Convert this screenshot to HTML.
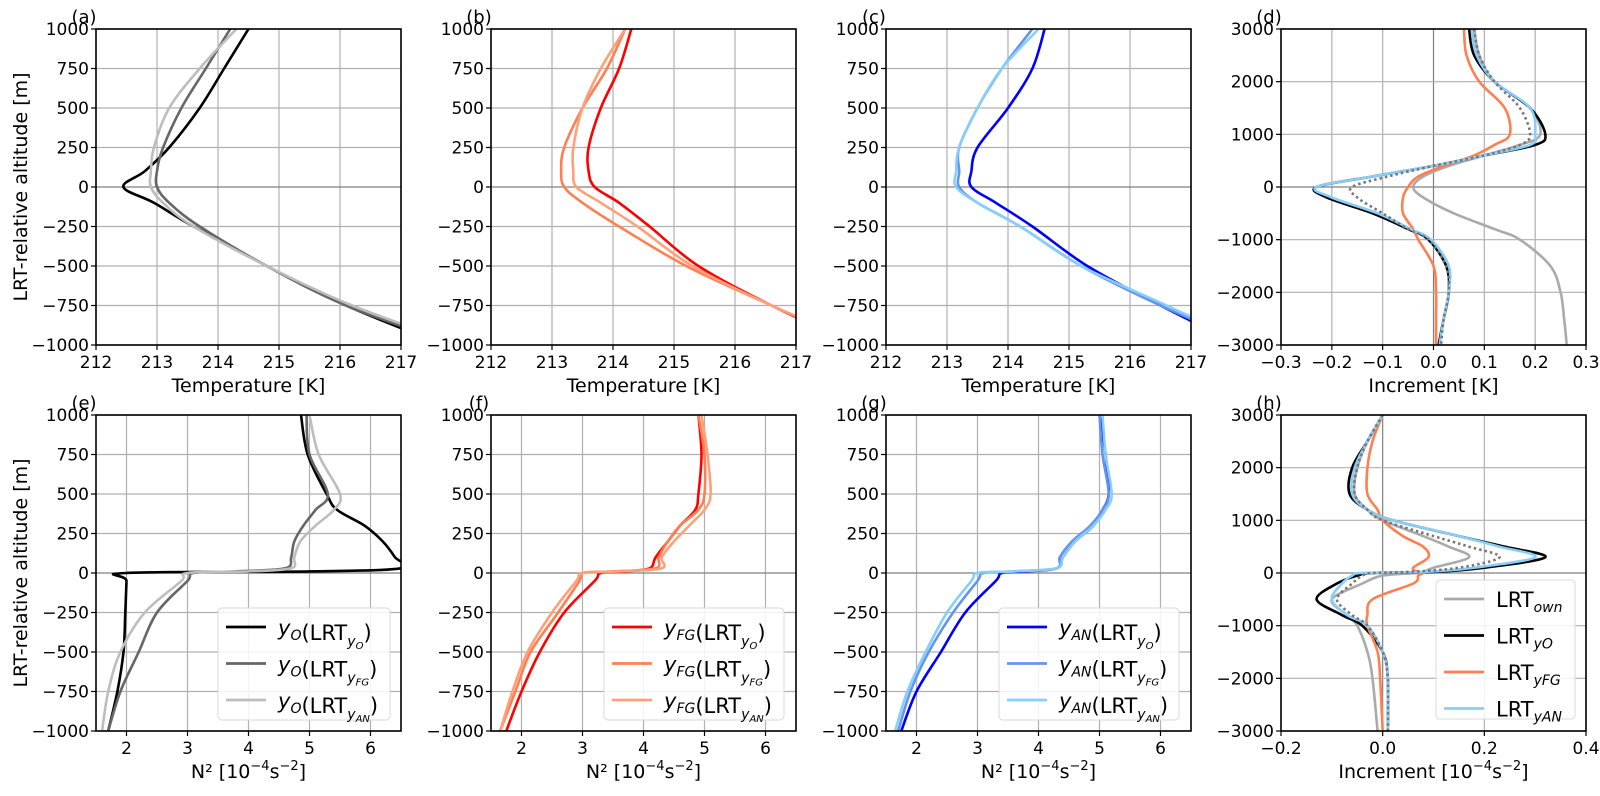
<!DOCTYPE html>
<html><head><meta charset="utf-8">
<style>
html,body{margin:0;padding:0;background:#fff;}
svg{display:block;font-family:"DejaVu Sans","Liberation Sans",sans-serif;}
</style></head>
<body>
<svg id="fig" width="1600" height="796" viewBox="0 0 1600 796" xmlns="http://www.w3.org/2000/svg"></svg>
<script>
// ---------- data ----------
const altT = [1000,750,500,250,100,0,-100,-250,-500,-750,-1000];
// panel (a)
const a_yO  = [214.5,214.1,213.7,213.2,212.8,212.45,212.95,213.6,214.8,216.1,217.7];
const a_FG  = [214.2,213.8,213.4,213.1,213.0,213.0,213.2,213.7,214.8,216.1,217.9];
const a_AN  = [214.3,213.7,213.2,212.95,212.9,212.9,213.1,213.6,214.8,216.2,218.0];
// panel (b)
const b_yO  = [214.3,214.1,213.8,213.6,213.6,213.7,214.1,214.6,215.4,216.6,218.0];
const b_FG  = [214.2,213.9,213.5,213.2,213.15,213.2,213.5,214.1,215.2,216.6,218.1];
const b_AN  = [214.2,213.8,213.5,213.35,213.35,213.4,213.8,214.4,215.3,216.6,218.1];
// panel (c)
const c_yO  = [214.6,214.4,214.0,213.5,213.4,213.4,213.8,214.4,215.3,216.5,217.8];
const c_FG  = [214.4,213.9,213.5,213.2,213.2,213.2,213.5,214.2,215.2,216.5,218.0];
const c_AN  = [214.5,213.9,213.5,213.2,213.15,213.15,213.5,214.2,215.2,216.6,218.0];
// panel (d)
const altD = [3000,2500,2000,1500,1000,800,600,400,200,0,-200,-500,-800,-1000,-1500,-2000,-2500,-3000];
const d_own = [0.08,0.09,0.12,0.19,0.21,0.17,0.10,0.03,-0.02,-0.04,-0.02,0.04,0.12,0.17,0.23,0.25,0.257,0.262];
const d_yO  = [0.07,0.08,0.12,0.19,0.22,0.20,0.10,0.0,-0.12,-0.23,-0.21,-0.12,-0.05,-0.01,0.025,0.03,0.02,0.01];
const d_FG  = [0.06,0.065,0.09,0.14,0.15,0.12,0.08,0.02,-0.03,-0.05,-0.06,-0.06,-0.04,-0.03,0.0,0.005,0.005,0.005];
const d_AN  = [0.075,0.085,0.12,0.19,0.20,0.19,0.10,0.0,-0.12,-0.23,-0.20,-0.11,-0.045,-0.005,0.03,0.03,0.02,0.012];
const d_dot = [0.08,0.09,0.12,0.17,0.19,0.17,0.10,0.0,-0.09,-0.16,-0.15,-0.10,-0.05,-0.01,0.025,0.03,0.02,0.015];
// panel (e)-(g)
const altN = [1000,750,500,400,300,200,100,30,10,0,-50,-250,-500,-750,-1000];
const e_yO = [4.86,4.97,5.28,5.45,5.9,6.2,6.4,6.5,5.0,2.0,2.0,1.98,1.95,1.85,1.7];
const e_FG = [4.95,5.0,5.3,5.1,4.9,4.75,4.7,4.6,3.8,3.1,3.0,2.5,2.2,1.9,1.7];
const e_AN = [5.0,5.15,5.5,5.4,5.1,4.85,4.75,4.7,4.0,3.0,2.9,2.3,1.9,1.7,1.6];
const f_yO = [4.9,4.95,4.9,4.85,4.6,4.4,4.2,4.1,3.7,3.3,3.2,2.7,2.3,2.0,1.75];
const f_FG = [4.9,5.0,5.0,4.9,4.6,4.4,4.25,4.2,3.5,3.0,2.95,2.6,2.15,1.9,1.65];
const f_AN = [4.95,5.05,5.1,5.0,4.75,4.5,4.3,4.3,3.6,3.0,2.9,2.5,2.1,1.85,1.65];
const g_yO = [5.0,5.1,5.15,5.05,4.9,4.6,4.4,4.3,3.8,3.4,3.3,2.8,2.4,2.0,1.75];
const g_FG = [5.0,5.05,5.15,5.05,4.85,4.55,4.35,4.3,3.6,3.1,3.0,2.6,2.2,1.9,1.7];
const g_AN = [5.05,5.1,5.2,5.1,4.9,4.6,4.4,4.3,3.6,3.0,2.9,2.5,2.15,1.85,1.65];
// panel (h)
const altH = [3000,2500,2000,1500,1200,1000,700,500,300,100,20,0,-50,-200,-500,-800,-1000,-1500,-2000,-3000];
const h_own = [0.0,-0.03,-0.05,-0.055,-0.03,0.0,0.08,0.13,0.17,0.10,0.08,0.07,0.0,-0.04,-0.10,-0.07,-0.05,-0.03,-0.02,-0.01];
const h_yO  = [0.0,-0.03,-0.06,-0.065,-0.03,0.02,0.15,0.24,0.32,0.20,0.10,-0.02,-0.05,-0.09,-0.13,-0.08,-0.04,0.0,0.01,0.01];
const h_FG  = [0.0,-0.02,-0.03,-0.03,-0.01,0.0,0.04,0.08,0.09,0.06,0.07,0.08,0.07,0.06,-0.02,-0.03,-0.03,-0.01,-0.005,0.0];
const h_AN  = [0.0,-0.03,-0.055,-0.06,-0.03,0.02,0.15,0.23,0.30,0.18,0.08,-0.04,-0.06,-0.08,-0.10,-0.07,-0.03,0.0,0.01,0.01];
const h_dot = [0.0,-0.03,-0.05,-0.055,-0.03,0.0,0.10,0.17,0.23,0.15,0.05,-0.02,-0.04,-0.06,-0.09,-0.06,-0.03,0.0,0.01,0.01];

const tempTicks = [212,213,214,215,216,217];
const altTicks1 = [-1000,-750,-500,-250,0,250,500,750,1000];
const incTicksD = [-0.3,-0.2,-0.1,0.0,0.1,0.2,0.3];
const incTicksH = [-0.2,0.0,0.2,0.4];
const altTicks3 = [-3000,-2000,-1000,0,1000,2000,3000];
const n2Ticks = [2,3,4,5,6];

// ---------- helpers ----------
const NS="http://www.w3.org/2000/svg";
const svg=document.getElementById('fig');
function el(tag,attrs,parent){const e=document.createElementNS(NS,tag);for(const k in attrs)e.setAttribute(k,attrs[k]);(parent||svg).appendChild(e);return e;}
function fmt(v,dec){let s=v.toFixed(dec);if(Math.abs(v)<1e-9)s=(0).toFixed(dec);return s.replace('-','\u2212');}
function smooth(pts){
  let d='M'+pts[0][0].toFixed(1)+','+pts[0][1].toFixed(1);
  for(let i=0;i<pts.length-1;i++){
    const p0=pts[Math.max(i-1,0)],p1=pts[i],p2=pts[i+1],p3=pts[Math.min(i+2,pts.length-1)];
    const c1=[p1[0]+(p2[0]-p0[0])/6,p1[1]+(p2[1]-p0[1])/6];
    const c2=[p2[0]-(p3[0]-p1[0])/6,p2[1]-(p3[1]-p1[1])/6];
    d+=' C'+c1[0].toFixed(1)+','+c1[1].toFixed(1)+' '+c2[0].toFixed(1)+','+c2[1].toFixed(1)+' '+p2[0].toFixed(1)+','+p2[1].toFixed(1);
  }
  return d;
}

function panel(o){
  const L=o.x0,T=o.y0,W=305,H=316;
  const sx=v=>L+(v-o.xmin)/(o.xmax-o.xmin)*W;
  const sy=v=>T+(o.ymax-v)/(o.ymax-o.ymin)*H;
  const g=el('g',{});
  
  
  const clipId='clip-'+o.id;
  const cp=el('clipPath',{id:clipId},g);el('rect',{x:L,y:T,width:W,height:H},cp);
  // grid
  o.xticks.forEach(v=>{const x=sx(v);const gl=el('line',{x1:x,x2:x,y1:T,y2:T+H,stroke:(o.zeroX&&Math.abs(v)<1e-9)?'#808080':'#b0b0b0','stroke-width':1.2},g);});
  o.yticks.forEach(v=>{const y=sy(v);const gl=el('line',{x1:L,x2:L+W,y1:y,y2:y,stroke:Math.abs(v)<1e-9?'#808080':'#b0b0b0','stroke-width':1.2},g);});
  // series
  const sg=el('g',{'clip-path':'url(#'+clipId+')'},g);
  o.series.forEach(s=>{
    const pts=s.vals.map((v,i)=>[sx(v),sy(s.alt[i])]);
    const p=el('path',{d:smooth(pts),fill:'none',stroke:s.color,'stroke-width':s.w||2.6,'stroke-dasharray':s.dash||'none','stroke-linejoin':'round'},sg);
    
    
  });
  // frame
  const fr=el('rect',{x:L,y:T,width:W,height:H,fill:'none',stroke:'#000','stroke-width':1.6},g);
  
  // ticks
  o.xticks.forEach(v=>{const x=sx(v);el('line',{x1:x,x2:x,y1:T+H,y2:T+H+5,stroke:'#000','stroke-width':1.2},g);
    const t=el('text',{x:x,y:T+H+23,'text-anchor':'middle','font-size':17},g);t.textContent=o.xfmt(v);
    });
  o.yticks.forEach(v=>{const y=sy(v);el('line',{x1:L-5,x2:L,y1:y,y2:y,stroke:'#000','stroke-width':1.2},g);
    const t=el('text',{x:L-7,y:y+6,'text-anchor':'end','font-size':17},g);t.textContent=o.yfmt(v);
    });
  // panel letter
  const pl=el('text',{x:L-12,y:T-6,'text-anchor':'middle','font-size':18},g);pl.textContent='('+o.id+')';
  
  // x label
  const xl=el('text',{x:L+W/2,y:T+H+47,'text-anchor':'middle','font-size':19},g);xl.innerHTML=o.xlabel;
  
  if(o.ylabel){const yl=el('text',{x:0,y:0,'text-anchor':'middle','font-size':19,transform:'translate(27,'+(T+H/2)+') rotate(-90)'},g);yl.textContent=o.ylabel;
    }
  // legend
  if(o.legend){
    const lg=el('g',{},g);
    
    const bx=L+o.legend.dx,by=T+o.legend.dy,bw=o.legend.w,bh=o.legend.h;
    el('rect',{x:bx,y:by,width:bw,height:bh,rx:4,fill:'#fff','fill-opacity':0.85,stroke:'#d8d8d8','stroke-width':1},lg);
    o.legend.items.forEach((it,i)=>{
      const yy=by+19+i*36.5;
      const e=el('g',{},lg);
      
      el('line',{x1:bx+8,x2:bx+48,y1:yy,y2:yy,stroke:it.color,'stroke-width':2.8},e);
      const t=el('text',{x:bx+o.legend.tx,y:yy+8,'font-size':21},e);t.innerHTML=it.label;
    });
  }
}
const tx=v=>String(v);
const sub=(s)=>'<tspan font-size="14" font-style="italic" dy="5">'+s+'</tspan><tspan dy="-5"></tspan>';
const yv=(s)=>'<tspan font-style="italic">y</tspan>'+'<tspan font-size="14" font-style="italic" dy="5">'+s+'</tspan><tspan dy="-5"></tspan>';
const lrt=(s)=>'(LRT<tspan font-size="14" font-style="italic" dy="6">y</tspan><tspan font-size="10" font-style="italic" dy="3">'+s+'</tspan><tspan dy="-9">)</tspan>';
const n2lab='N² [10<tspan font-size="13" dy="-8">−4</tspan><tspan dy="8">s</tspan><tspan font-size="13" dy="-8">−2</tspan><tspan dy="8">]</tspan>';
const inclab='Increment  [10<tspan font-size="13" dy="-8">−4</tspan><tspan dy="8">s</tspan><tspan font-size="13" dy="-8">−2</tspan><tspan dy="8">]</tspan>';

const R1=29,R2=415,C=[96,491,886,1281];
const tempOpts={xmin:212,xmax:217,ymin:-1000,ymax:1000,xticks:tempTicks,yticks:altTicks1,xfmt:tx,yfmt:v=>fmt(v,0),xlabel:'Temperature  [K]'};
panel(Object.assign({id:'a',x0:C[0],y0:R1,ylabel:'LRT-relative altitude  [m]',series:[
 {name:'a-yO-LRTyO',alt:altT,vals:a_yO,color:'#000'},
 {name:'a-yO-LRTyFG',alt:altT,vals:a_FG,color:'#666'},
 {name:'a-yO-LRTyAN',alt:altT,vals:a_AN,color:'#bdbdbd'}]},tempOpts));
panel(Object.assign({id:'b',x0:C[1],y0:R1,series:[
 {name:'b-yFG-LRTyO',alt:altT,vals:b_yO,color:'#ff0000'},
 {name:'b-yFG-LRTyFG',alt:altT,vals:b_FG,color:'#ff7f50'},
 {name:'b-yFG-LRTyAN',alt:altT,vals:b_AN,color:'#ffa07a'}]},tempOpts));
panel(Object.assign({id:'c',x0:C[2],y0:R1,series:[
 {name:'c-yAN-LRTyO',alt:altT,vals:c_yO,color:'#0000ff'},
 {name:'c-yAN-LRTyFG',alt:altT,vals:c_FG,color:'#6495ed'},
 {name:'c-yAN-LRTyAN',alt:altT,vals:c_AN,color:'#87cefa'}]},tempOpts));
panel({id:'d',x0:C[3],y0:R1,xmin:-0.3,xmax:0.3,ymin:-3000,ymax:3000,xticks:incTicksD,yticks:altTicks3,zeroX:true,xfmt:v=>fmt(v,1),yfmt:v=>fmt(v,0),xlabel:'Increment  [K]',series:[
 {name:'d-LRTown',alt:altD,vals:d_own,color:'#aaaaaa'},
 {name:'d-LRTyO',alt:altD,vals:d_yO,color:'#000'},
 {name:'d-LRTyFG',alt:altD,vals:d_FG,color:'#ff7f50'},
 {name:'d-LRTyAN',alt:altD,vals:d_AN,color:'#87cefa'},
 {name:'d-dotted',alt:altD,vals:d_dot,color:'#777',dash:'2.5,3',w:2.6}]});
const n2Opts={xmin:1.5,xmax:6.5,ymin:-1000,ymax:1000,xticks:n2Ticks,yticks:altTicks1,xfmt:tx,yfmt:v=>fmt(v,0),xlabel:n2lab};
panel(Object.assign({id:'e',x0:C[0],y0:R2,ylabel:'LRT-relative altitude  [m]',series:[
 {name:'e-yO-LRTyO',alt:altN,vals:e_yO,color:'#000'},
 {name:'e-yO-LRTyFG',alt:altN,vals:e_FG,color:'#666'},
 {name:'e-yO-LRTyAN',alt:altN,vals:e_AN,color:'#bdbdbd'}],
 legend:{dx:122,dy:193,w:172,h:112,tx:60,items:[
  {color:'#000',label:yv('O')+lrt('O')},{color:'#666',label:yv('O')+lrt('FG')},{color:'#bdbdbd',label:yv('O')+lrt('AN')}]}},n2Opts));
panel(Object.assign({id:'f',x0:C[1],y0:R2,series:[
 {name:'f-yFG-LRTyO',alt:altN,vals:f_yO,color:'#ff0000'},
 {name:'f-yFG-LRTyFG',alt:altN,vals:f_FG,color:'#ff7f50'},
 {name:'f-yFG-LRTyAN',alt:altN,vals:f_AN,color:'#ffa07a'}],
 legend:{dx:113,dy:193,w:180,h:112,tx:60,items:[
  {color:'#ff0000',label:yv('FG')+lrt('O')},{color:'#ff7f50',label:yv('FG')+lrt('FG')},{color:'#ffa07a',label:yv('FG')+lrt('AN')}]}},n2Opts));
panel(Object.assign({id:'g',x0:C[2],y0:R2,series:[
 {name:'g-yAN-LRTyO',alt:altN,vals:g_yO,color:'#0000ff'},
 {name:'g-yAN-LRTyFG',alt:altN,vals:g_FG,color:'#6495ed'},
 {name:'g-yAN-LRTyAN',alt:altN,vals:g_AN,color:'#87cefa'}],
 legend:{dx:113,dy:193,w:180,h:112,tx:60,items:[
  {color:'#0000ff',label:yv('AN')+lrt('O')},{color:'#6495ed',label:yv('AN')+lrt('FG')},{color:'#87cefa',label:yv('AN')+lrt('AN')}]}},n2Opts));
panel({id:'h',x0:C[3],y0:R2,xmin:-0.2,xmax:0.4,ymin:-3000,ymax:3000,xticks:incTicksH,yticks:altTicks3,zeroX:true,xfmt:v=>fmt(v,1),yfmt:v=>fmt(v,0),xlabel:inclab,series:[
 {name:'h-LRTown',alt:altH,vals:h_own,color:'#aaaaaa'},
 {name:'h-LRTyO',alt:altH,vals:h_yO,color:'#000'},
 {name:'h-LRTyFG',alt:altH,vals:h_FG,color:'#ff7f50'},
 {name:'h-LRTyAN',alt:altH,vals:h_AN,color:'#87cefa'},
 {name:'h-dotted',alt:altH,vals:h_dot,color:'#777',dash:'2.5,3',w:2.6}],
 legend:{dx:155,dy:165,w:139,h:139,tx:60,items:[
  {color:'#aaaaaa',label:'LRT'+sub('own')},{color:'#000',label:'LRT'+sub('yO')},{color:'#ff7f50',label:'LRT'+sub('yFG')},{color:'#87cefa',label:'LRT'+sub('yAN')}]}});
</script>
</body></html>
